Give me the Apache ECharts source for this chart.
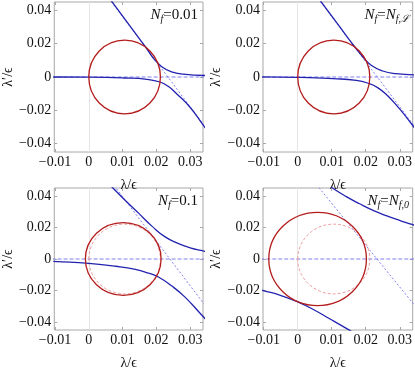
<!DOCTYPE html>
<html><head><meta charset="utf-8">
<script src="https://cdn.jsdelivr.net/npm/echarts@6/dist/echarts.min.js"></script>
<style>html,body{margin:0;padding:0;background:#fff}#c{width:415px;height:371px}</style>
</head><body><div id="c"></div>
<script>
// ---------- data ----------
const xTicks = [-0.01, 0, 0.01, 0.02, 0.03];
const yTicks = [-0.04, -0.02, 0, 0.02, 0.04];
const xRange = [-0.0102, 0.0338];
const yRange = [-0.045, 0.045];

const panelLabels = ['0.01', 'ℒ', '0.1', '0'];

// circles: [centerX, centerY, radiusX, radiusY]
const circle1 = [0.0106, 0, 0.0106, 0.0221];
const circle2 = [0.0106, 0, 0.0106, 0.0221];
const circle3 = [0.0102, 0, 0.0112, 0.0230];
const circle4 = [0.00585, 0, 0.01435, 0.0295];
const circleRef = [0.0106, 0, 0.0106, 0.0221];

// dashed reference line λ' = 0 (end points on the axis range)
const zeroLine = [[-0.011, 0], [0.035, 0]];
// dotted reference diagonal (two end points)
const diag1 = [[0.0060, 0.0470], [0.0345, -0.0300]];
const diag2 = [[0.0060, 0.0470], [0.0345, -0.0300]];
const diag3 = [[0.0075, 0.0465], [0.0345, -0.0296]];
const diag4 = [[0.0055, 0.0472], [0.0345, -0.0297]];

// solid blue branches
const upper1 = [[0.0062,0.0470],[0.0120,0.0311],[0.0168,0.0180],[0.0192,0.0111],[0.0216,0.0062],[0.0245,0.0031],[0.0279,0.0017],[0.0345,0.0009]];
const lower1 = [[-0.0105,0.0000],[0.0000,-0.0001],[0.0104,-0.0006],[0.0172,-0.0014],[0.0211,-0.0030],[0.0235,-0.0056],[0.0260,-0.0100],[0.0299,-0.0180],[0.0336,-0.0281],[0.0345,-0.0306]];
const upper2 = [[0.0062,0.0470],[0.0120,0.0311],[0.0168,0.0180],[0.0192,0.0120],[0.0216,0.0070],[0.0250,0.0036],[0.0289,0.0020],[0.0345,0.0013]];
const lower2 = [[-0.0105,0.0001],[0.0000,-0.0002],[0.0104,-0.0010],[0.0172,-0.0020],[0.0211,-0.0040],[0.0235,-0.0064],[0.0260,-0.0104],[0.0299,-0.0190],[0.0336,-0.0285],[0.0345,-0.0310]];
const upper3 = [[0.0062,0.0471],[0.0070,0.0453],[0.0109,0.0369],[0.0148,0.0289],[0.0186,0.0210],[0.0226,0.0140],[0.0264,0.0099],[0.0303,0.0069],[0.0332,0.0054],[0.0345,0.0048]];
const lower3 = [[-0.0105,-0.0015],[-0.0095,-0.0016],[0.0000,-0.0028],[0.0080,-0.0046],[0.0138,-0.0066],[0.0177,-0.0090],[0.0206,-0.0114],[0.0245,-0.0170],[0.0284,-0.0240],[0.0332,-0.0350],[0.0345,-0.0380]];
const upper4 = [[0.0092,0.0470],[0.0100,0.0453],[0.0143,0.0395],[0.0182,0.0350],[0.0225,0.0305],[0.0260,0.0275],[0.0299,0.0245],[0.0336,0.0219],[0.0345,0.0212]];
const lower4 = [[-0.0105,-0.0197],[-0.0101,-0.0200],[-0.0051,-0.0230],[0.0000,-0.0272],[0.0046,-0.0320],[0.0095,-0.0380],[0.0148,-0.0446],[0.0160,-0.0462]];

// ---------- layout & style ----------
const FONT = "'Liberation Serif', 'Times New Roman', serif";
const FRAME = '#a8a8a8';
const BLUE = '#2222b0';
const RED = '#b41c1c';
const LBLUE = '#8080f0';
const PINK = '#ec9c9c';
const gridPos = [[52, 2], [263, 2], [52, 188], [263, 188]];
const GW = 151, GH = 150;

const panels = [
  {upper: upper1, lower: lower1, diag: diag1, circle: circle1, ref: null},
  {upper: upper2, lower: lower2, diag: diag2, circle: circle2, ref: null},
  {upper: upper3, lower: lower3, diag: diag3, circle: circle3, ref: circleRef},
  {upper: upper4, lower: lower4, diag: diag4, circle: circle4, ref: circleRef}
];

const fmt = v => v === 0 ? '0' : (v < 0 ? '−' : '') + Math.abs(v).toFixed(2);

const grid = [], xAxis = [], yAxis = [], series = [], title = [];
const tickStyle = () => ({show: true, inside: true, length: 3, lineStyle: {color: FRAME, width: 1}});
const labStyle = {fontFamily: FONT, fontSize: 14, color: '#111', fontWeight: 'normal'};

gridPos.forEach((p, i) => {
  grid.push({left: p[0], top: p[1], width: GW, height: GH, show: true,
    borderColor: FRAME, borderWidth: 1, backgroundColor: 'transparent'});
  xAxis.push({type: 'value', gridIndex: i, min: xRange[0], max: xRange[1],
    position: 'bottom',
    name: 'λ/ϵ', nameLocation: 'middle', nameGap: 26,
    nameTextStyle: Object.assign({}, labStyle),
    axisLine: {show: false, onZero: false},
    axisTick: Object.assign({customValues: xTicks}, tickStyle()),
    axisLabel: Object.assign({customValues: xTicks, formatter: fmt, margin: 3}, labStyle),
    splitLine: {show: false}});
  yAxis.push({type: 'value', gridIndex: i, min: yRange[0], max: yRange[1],
    position: 'left',
    name: 'λ′/ϵ', nameLocation: 'middle', nameGap: 37, nameRotate: 90,
    nameTextStyle: Object.assign({}, labStyle),
    axisLine: {show: false, onZero: false},
    axisTick: Object.assign({customValues: yTicks}, tickStyle()),
    axisLabel: Object.assign({customValues: yTicks, formatter: fmt, margin: 3}, labStyle),
    splitLine: {show: false}});
});
// top / right frame ticks
gridPos.forEach((p, i) => {
  xAxis.push({type: 'value', gridIndex: i, min: xRange[0], max: xRange[1], position: 'top',
    axisLine: {show: false, onZero: false}, axisTick: Object.assign({customValues: xTicks}, tickStyle()),
    axisLabel: {show: false}, splitLine: {show: false}});
  yAxis.push({type: 'value', gridIndex: i, min: yRange[0], max: yRange[1], position: 'right',
    axisLine: {show: false, onZero: false}, axisTick: Object.assign({customValues: yTicks}, tickStyle()),
    axisLabel: {show: false}, splitLine: {show: false}});
});

function ellipse(i, c, color, width, dash, z) {
  return {type: 'custom', xAxisIndex: i, yAxisIndex: i, z: z, silent: true,
    data: [c], encode: {x: 0, y: 1},
    renderItem: (params, api) => {
      const cx = api.value(0), cy = api.value(1), rx = api.value(2), ry = api.value(3);
      const c0 = api.coord([cx, cy]);
      const c1 = api.coord([cx + rx, cy + ry]);
      const px = c1[0] - c0[0], py = c0[1] - c1[1];
      const d = `M ${c0[0]-px} ${c0[1]} A ${px} ${py} 0 0 1 ${c0[0]} ${c0[1]-py} A ${px} ${py} 0 0 1 ${c0[0]+px} ${c0[1]} A ${px} ${py} 0 0 1 ${c0[0]} ${c0[1]+py} A ${px} ${py} 0 0 1 ${c0[0]-px} ${c0[1]} Z`;
      return {type: 'path',
        shape: {pathData: d, x: c0[0]-px, y: c0[1]-py, width: 2*px, height: 2*py, layout: 'cover'},
        style: {fill: 'none', stroke: color, lineWidth: width, lineDash: dash}};
    }};
}

function line(i, data, color, width, dash, z, extra) {
  return Object.assign({type: 'line', xAxisIndex: i, yAxisIndex: i, data: data,
    showSymbol: false, symbol: 'none', smooth: true, clip: true, z: z, silent: true,
    color: color,
    lineStyle: {color: color, width: width, type: dash || 'solid'}}, extra || {});
}

panels.forEach((P, i) => {
  series.push(line(i, zeroLine, LBLUE, 1, [4, 2], 2, {smooth: false}));
  series.push(line(i, P.diag, LBLUE, 1, [2, 2], 2, {smooth: false}));
  if (P.ref) series.push(ellipse(i, P.ref, PINK, 1, [3, 2], 3));
  // faint x = 0 axis line
  series.push(line(i, P.upper, BLUE, 1.3, null, 4, {
    markLine: {silent: true, symbol: 'none', label: {show: false}, z: 1,
      lineStyle: {color: '#e6e6e6', width: 1, type: 'solid', opacity: 1},
      emphasis: {disabled: true},
      data: [{xAxis: 0}]}}));
  series.push(line(i, P.lower, BLUE, 1.3, null, 4));
  series.push(ellipse(i, P.circle, RED, 1.3, null, 5));
});

const rich = {
  n: {fontFamily: FONT, fontStyle: 'italic', fontWeight: 'normal', fontSize: 15, color: '#111'},
  s: {fontFamily: FONT, fontStyle: 'italic', fontWeight: 'normal', fontSize: 10, color: '#111', padding: [7, 0, 0, 0]},
  e: {fontFamily: FONT, fontWeight: 'normal', fontSize: 15, color: '#111'}
};
const labelTexts = [
  '{n|N}{s|f}{e|=' + panelLabels[0] + '}',
  '{n|N}{s|f}{e|=}{n|N}{s|f,' + panelLabels[1] + '}',
  '{n|N}{s|f}{e|=' + panelLabels[2] + '}',
  '{n|N}{s|f}{e|=}{n|N}{s|f,' + panelLabels[3] + '}'
];
gridPos.forEach((p, i) => {
  title.push({text: labelTexts[i], right: 415 - (p[0] + GW) + 5, top: p[1] + 5,
    padding: 0, textStyle: {rich: rich, fontSize: 15, fontWeight: 'normal'}});
});

const chart = echarts.init(document.getElementById('c'));
chart.setOption({animation: false, backgroundColor: '#fff',
  textStyle: {fontFamily: FONT}, title, grid, xAxis, yAxis, series});
</script>
</body></html>
